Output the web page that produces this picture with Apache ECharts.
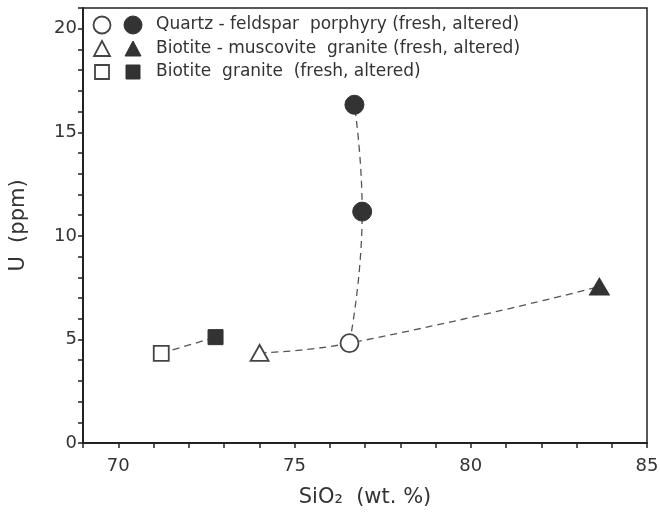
<!DOCTYPE html>
<html>
<head>
<meta charset="utf-8">
<script src="https://cdn.jsdelivr.net/npm/echarts@6/dist/echarts.min.js"></script>
<style>
  html, body { margin: 0; padding: 0; background: #fff; }
  #chart { width: 660px; height: 516px; }
</style>
</head>
<body>
<div id="chart"></div>
<script>
// SiO2 (wt.%), U (ppm)
const qfpFresh = [[76.56, 4.82]]
const qfpAltered = [[76.70, 16.33], [76.92, 11.17]]
const bmgFresh = [[74.01, 4.35]]
const bmgAltered = [[83.65, 7.55]]
const bgFresh = [[71.22, 4.33]]
const bgAltered = [[72.76, 5.11]]

const legendNames = [
  'Quartz - feldspar  porphyry (fresh, altered)',
  'Biotite - muscovite  granite (fresh, altered)',
  'Biotite  granite  (fresh, altered)'
]

const ink = '#333'
const font = 'DejaVu Sans'

// dashed trend lines joining fresh -> altered samples
const trendSquares = [bgFresh[0], bgAltered[0]]
const trendFlat = [bmgFresh[0], qfpFresh[0], bmgAltered[0]]
const trendSteep = [qfpFresh[0], qfpAltered[1], qfpAltered[0]]

const chart = echarts.init(document.getElementById('chart'))

function trend(data) {
  return {
    type: 'line',
    data: data,
    smooth: true,
    symbol: 'none',
    silent: true,
    z: 1,
    lineStyle: { color: '#555', width: 1.3, type: [7, 5] }
  }
}

function marks(data, symbol, size, filled) {
  return {
    type: 'scatter',
    data: data,
    symbol: symbol,
    symbolSize: size,
    z: 5,
    itemStyle: filled
      ? { color: ink, borderColor: ink, borderWidth: 1, opacity: 1 }
      : { color: '#fff', borderColor: '#444', borderWidth: 1.8, opacity: 1 }
  }
}

// legend drawn by hand: open symbol, filled symbol, text
const legendRows = [25, 49, 72]
const legendGraphics = []
legendRows.forEach(function (y, i) {
  const openStyle = { fill: '#fff', stroke: '#444', lineWidth: 1.8 }
  const fillStyle = { fill: ink, stroke: ink, lineWidth: 1 }
  if (i === 0) {
    legendGraphics.push({ type: 'circle', shape: { cx: 102, cy: y, r: 8.5 }, style: openStyle })
    legendGraphics.push({ type: 'circle', shape: { cx: 133, cy: y, r: 9 }, style: fillStyle })
  } else if (i === 1) {
    legendGraphics.push({ type: 'polygon', shape: { points: [[102, y - 8], [94, y + 7], [110, y + 7]] }, style: openStyle })
    legendGraphics.push({ type: 'polygon', shape: { points: [[133, y - 8], [125, y + 7], [141, y + 7]] }, style: fillStyle })
  } else {
    legendGraphics.push({ type: 'rect', shape: { x: 95, y: y - 7, width: 14, height: 14 }, style: openStyle })
    legendGraphics.push({ type: 'rect', shape: { x: 126, y: y - 7, width: 14, height: 14 }, style: fillStyle })
  }
  legendGraphics.push({
    type: 'text', x: 156, y: y,
    style: { text: legendNames[i], fill: ink, font: '17px "' + font + '"', textVerticalAlign: 'middle' }
  })
})

chart.setOption({
  animation: false,
  backgroundColor: '#fff',
  grid: {
    left: 83,
    right: 13,
    top: 8,
    bottom: 73,
    outerBoundsMode: 'none',
    containLabel: false,
    show: true,
    borderColor: '#222',
    borderWidth: 1.5
  },
  xAxis: {
    type: 'value',
    min: 69,
    max: 85,
    interval: 1,
    name: 'SiO\u2082  (wt. %)',
    nameLocation: 'middle',
    nameGap: 44,
    nameTextStyle: { fontFamily: font, fontSize: 21, color: ink },
    axisLine: { lineStyle: { color: '#222', width: 2 } },
    axisTick: { show: true, length: 5, lineStyle: { color: '#222', width: 1.5 } },
    axisLabel: {
      fontFamily: font, fontSize: 18, color: ink, margin: 14,
      formatter: function (v) { return v % 5 === 0 ? String(v) : '' }
    },
    splitLine: { show: false }
  },
  yAxis: {
    type: 'value',
    min: 0,
    max: 21,
    interval: 1,
    name: 'U  (ppm)',
    nameLocation: 'middle',
    nameGap: 54,
    nameTextStyle: { fontFamily: font, fontSize: 21, color: ink },
    axisLine: { lineStyle: { color: '#222', width: 2 } },
    axisTick: { show: true, length: 5, lineStyle: { color: '#222', width: 1.5 } },
    axisLabel: {
      fontFamily: font, fontSize: 18, color: ink, margin: 6,
      formatter: function (v) { return v % 5 === 0 ? String(v) : '' }
    },
    splitLine: { show: false }
  },
  graphic: legendGraphics,
  series: [
    trend(trendSquares),
    trend(trendFlat),
    trend(trendSteep),
    marks(qfpFresh, 'circle', 18, false),
    marks(qfpAltered, 'circle', 19, true),
    marks(bmgFresh, 'triangle', [18, 16], false),
    marks(bmgAltered, 'triangle', [20, 17], true),
    marks(bgFresh, 'rect', 15, false),
    marks(bgAltered, 'rect', 15, true)
  ]
})
</script>
</body>
</html>
